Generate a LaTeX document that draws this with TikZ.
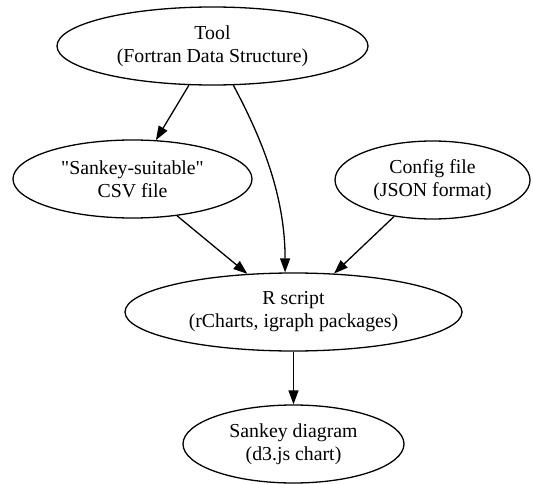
\documentclass[tikz,border=0pt]{standalone}
\usepackage{fontspec}
\setmainfont{Liberation Serif}[Ligatures=TeXOff]
\usetikzlibrary{arrows.meta,shapes.geometric}
\tikzset{flow/.style = {-{Triangle[length=14pt,width=10pt]}, line width=1.3pt}}

\begin{document}
\begin{tikzpicture}[x=1pt,y=1pt,
  every node/.style={draw,ellipse,line width=1.3pt,align=center,inner sep=0pt,
    minimum height=78pt,font=\fontsize{19.8}{23}\selectfont}
  ]
  \useasboundingbox (0,0) rectangle (533,-484);

  % the inputs
  \node[minimum width=311pt] (tool) at (212.5,-46) {Tool\\(Fortran Data Structure)};
  \node[minimum width=239pt] (csv) at (132.5,-179) {"Sankey-suitable"\\CSV file};
  \node[minimum width=195pt] (config) at (432.5,-180) {Config file\\(JSON format)};

  % the script and its output
  \node[minimum width=337pt] (rscript) at (293.5,-312) {R script\\(rCharts, igraph packages)};
  \node[minimum width=221pt] (sankey) at (293.5,-444) {Sankey diagram\\(d3.js chart)};

  % the edges
  \draw[flow] (tool) -- (csv);
  \draw[flow] (tool.-62) .. controls +(-62:55) and +(0,80) .. (rscript.102);
  \draw[flow] (csv) -- (rscript);
  \draw[flow] (config) -- (rscript);
  \draw[flow] (rscript) -- (sankey);
\end{tikzpicture}
\end{document}
